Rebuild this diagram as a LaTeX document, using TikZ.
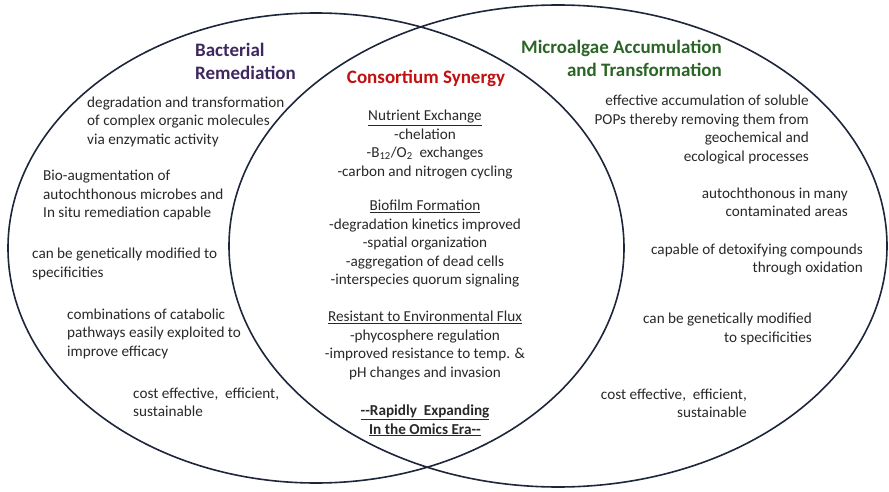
\documentclass[tikz,border=0pt]{standalone}
\usepackage{fontspec}
\setmainfont{Carlito}
\definecolor{ringnavy}{RGB}{30,38,60}
\definecolor{txtgray}{RGB}{40,40,40}
\definecolor{bactpurple}{RGB}{62,40,96}
\definecolor{synred}{RGB}{192,16,16}
\definecolor{algaegreen}{RGB}{44,100,40}
\newcommand{\hdr}[1]{\underline{#1}}

\begin{document}
\begin{tikzpicture}[x=1pt,y=-1pt,
  ring/.style={draw=ringnavy,line width=1.6pt},
  title/.style={font=\fontsize{19}{23}\selectfont\bfseries,inner sep=0pt},
  note/.style={font=\fontsize{15.2}{18.5}\selectfont,text=txtgray,inner sep=0pt}]
  \useasboundingbox (0,0) rectangle (889,492);
  \draw[ring] (316,248) ellipse [x radius=308pt,y radius=235pt];
  \draw[ring] (558,246) ellipse [x radius=329pt,y radius=241pt];

  \node[title,text=bactpurple,align=left,anchor=west] (bact) at (195,61.5) {Bacterial\\Remediation};
  \node[title,text=synred] (syn) at (426,78) {Consortium Synergy};
  \node[title,text=algaegreen,align=right,anchor=east] (algae) at (722,58.5) {Microalgae Accumulation\\and Transformation};

  \node[note,align=left,anchor=west] (b1) at (87,121.5) {degradation and transformation\\of complex organic molecules\\via enzymatic activity};
  \node[note,align=left,anchor=west] (b2) at (43,195) {Bio-augmentation of\\autochthonous microbes and\\In situ remediation capable};
  \node[note,align=left,anchor=west] (b3) at (32,264) {can be genetically modified to\\specificities};
  \node[note,align=left,anchor=west] (b4) at (67,333.5) {combinations of catabolic\\pathways easily exploited to\\improve efficacy};
  \node[note,align=left,anchor=west] (b5) at (133,402.5) {cost effective,\ \ efficient,\\sustainable};

  \node[note,align=center] (nutri) at (425,144.5) {\hdr{Nutrient Exchange}\\-chelation\\-B\textsubscript{12}/O\textsubscript{2}\ \ exchanges\\-carbon and nitrogen cycling};
  \node[note,align=center] (biofilm) at (425,244) {\hdr{Biofilm Formation}\\-degradation kinetics improved\\-spatial organization\\-aggregation of dead cells\\-interspecies quorum signaling};
  \node[note,align=center] (resist) at (425,345.5) {\hdr{Resistant to Environmental Flux}\\-phycosphere regulation\\-improved resistance to temp. \&\\pH changes and invasion};
  \node[note,align=center,font=\fontsize{15.2}{18.5}\selectfont\bfseries] (omics) at (425,420.5) {\hdr{-{}-Rapidly\ \ Expanding}\\\hdr{In the Omics Era-{}-}};

  \node[note,align=right,anchor=east] (a1) at (809,129.5) {effective accumulation of soluble\\POPs thereby removing them from\\geochemical and\\ecological processes};
  \node[note,align=right,anchor=east] (a2) at (848,202.5) {autochthonous in many\\contaminated areas};
  \node[note,align=right,anchor=east] (a3) at (863,259.5) {capable of detoxifying compounds\\through oxidation};
  \node[note,align=right,anchor=east] (a4) at (812,329) {can be genetically modified\\to specificities};
  \node[note,align=right,anchor=east] (a5) at (747,403.5) {cost effective,\ \ efficient,\\sustainable};
\end{tikzpicture}
\end{document}
